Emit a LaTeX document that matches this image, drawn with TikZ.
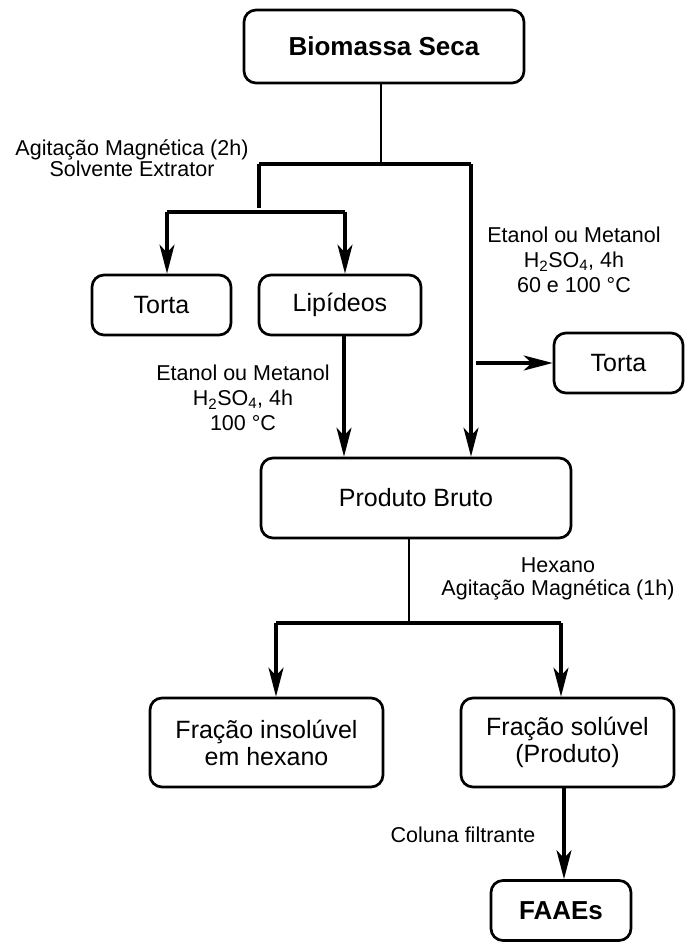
\documentclass[tikz,border=0pt]{standalone}
\usepackage{fontspec}
\setmainfont{Liberation Sans}
\usetikzlibrary{arrows.meta}
\tikzset{
  box/.style={draw, line width=2.7pt, rounded corners=12pt, inner sep=0pt, align=center,
    font=\fontsize{25}{27}\selectfont},
  lbl/.style={inner sep=0pt, align=center, font=\fontsize{21.5}{25}\selectfont},
  thickline/.style={line width=3.2pt},
  thinline/.style={line width=1.6pt},
  arr/.style={thickline, -{Stealth[length=29pt, width=15pt, inset=8pt]}},
}
\begin{document}
\begin{tikzpicture}[x=1pt, y=-1pt]
\useasboundingbox (0,0) rectangle (685,943);
% boxes
\node[box, minimum width=280, minimum height=73] (bio) at (384,46.5) {\bfseries\fontsize{26}{28}\selectfont Biomassa Seca};
\node[box, minimum width=139, minimum height=60] (tortaA) at (161.5,305) {Torta};
\node[box, minimum width=162, minimum height=60] (lip) at (340,305) {Lipídeos};
\node[box, minimum width=129, minimum height=60] (tortaB) at (618.5,363) {Torta};
\node[box, minimum width=310, minimum height=80] (prod) at (416,498) {Produto Bruto};
\node[box, minimum width=233, minimum height=89] (insol) at (266.5,742.5) {Fração insolúvel\\em hexano};
\node[box, minimum width=213, minimum height=89] (sol) at (567.5,742.5) {Fração solúvel\\(Produto)};
\node[box, minimum width=140, minimum height=60] (faaes) at (561,910.5) {\bfseries\fontsize{26}{28}\selectfont FAAEs};
% labels
\node[lbl, font=\fontsize{21.5}{21.5}\selectfont] (l1) at (132,158) {Agitação Magnética (2h)\\Solvente Extrator};
\node[lbl] (l2) at (574,260) {Etanol ou Metanol\\H\textsubscript{2}SO\textsubscript{4}, 4h\\60 e 100 °C};
\node[lbl] (l3) at (243,398) {Etanol ou Metanol\\H\textsubscript{2}SO\textsubscript{4}, 4h\\100 °C};
\node[lbl, font=\fontsize{21.5}{23}\selectfont] (l4) at (558,579) {Hexano\\Agitação Magnética (1h)};
\node[lbl] (l5) at (463,835) {Coluna filtrante};
% junction coordinates
\coordinate (j0) at (381,164);
\coordinate (jL) at (259,164);
\coordinate (jR) at (471,164);
\coordinate (jLd) at (259,208);
\coordinate (sL) at (167,212);
\coordinate (sR) at (345,212);
\coordinate (h0) at (476,363);
\coordinate (p0) at (409,623);
\coordinate (qL) at (276,623);
\coordinate (qR) at (561,623);
% connectors
\draw[thinline] (j0 |- bio.south) -- (j0);
\draw[thickline] (jL) -- (jR);
\draw[thickline] (jL) -- (jLd);
\draw[thickline] (sL) -- (sR);
\draw[arr] (sL) -- (sL |- tortaA.north);
\draw[arr] (sR) -- (sR |- lip.north);
\draw[arr] (jR) -- (jR |- prod.north);
\draw[arr] (344,0 |- lip.south) -- (344,0 |- prod.north);
\draw[arr] (h0) -- (h0 -| tortaB.west);
\draw[thinline] (p0 |- prod.south) -- (p0);
\draw[thickline] (qL) -- (qR);
\draw[arr] (qL) -- (qL |- insol.north);
\draw[arr] (qR) -- (qR |- sol.north);
\draw[arr] (564,0 |- sol.south) -- (564,0 |- faaes.north);
\end{tikzpicture}
\end{document}
